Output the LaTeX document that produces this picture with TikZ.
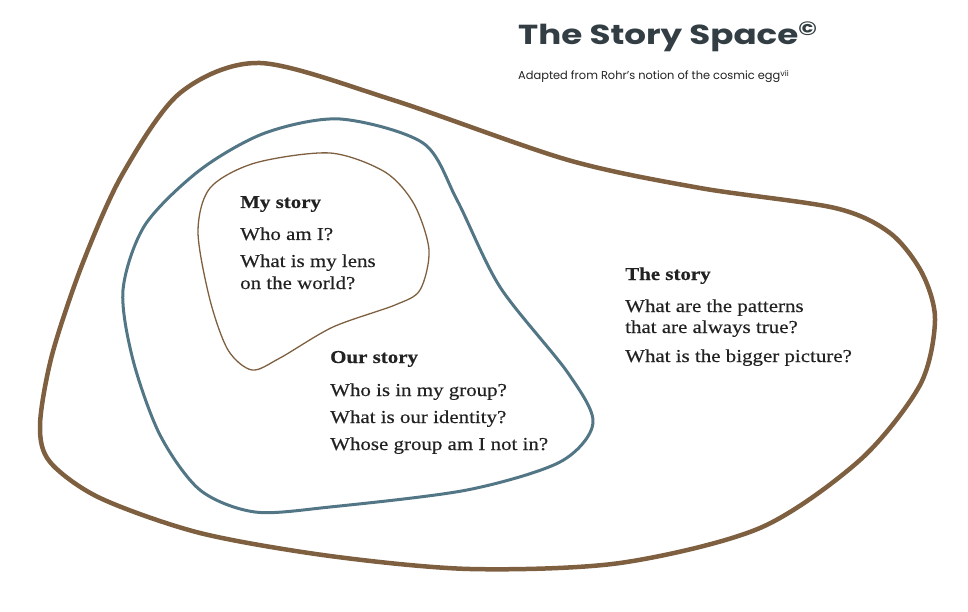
\documentclass[tikz,border=0pt]{standalone}
\usepackage{fontspec}
\setmainfont[FakeStretch=1.15,FakeBold=0.4]{Liberation Serif}
\newfontfamily\titlefont[FakeStretch=1.24]{Poppins}
\newfontfamily\subtitlefont{Poppins}
\usepackage{tikz}
\definecolor{eggbrown}{HTML}{7E6040}
\definecolor{groupblue}{HTML}{527685}
\definecolor{titlegrey}{HTML}{323E43}
\definecolor{inkgrey}{HTML}{222222}

\begin{document}
\begin{tikzpicture}[x=1pt,y=-1pt]
    \tikzstyle{head}=[inner sep=0pt,anchor=base west,text=inkgrey,font=\fontsize{18.2}{22}\selectfont\bfseries]
    \tikzstyle{question}=[inner sep=0pt,anchor=base west,text=inkgrey,font=\fontsize{18.2}{22}\selectfont]
    \tikzstyle{blob}=[line join=round,line cap=round]

    \useasboundingbox (0,0) rectangle (968,612);

    % the story
    \draw[blob,eggbrown,line width=4.5pt] plot[smooth cycle] coordinates {
        (260,63) (393,100) (568,160) (700,188) (835,208) (890,233)
        (922,273) (935,320) (920,385) (860,460) (760,528) (620,563)
        (470,569) (330,556) (200,533) (100,498) (50,462) (40,425)
        (52,355) (82,265) (122,175) (180,93)};
    % our story
    \draw[blob,groupblue,line width=3pt] plot[smooth cycle] coordinates {
        (340,119) (423,143) (457,200) (500,287) (568,373) (593,423)
        (560,462) (467,490) (330,507) (255,512) (200,490) (160,435)
        (133,360) (123,290) (145,225) (200,170) (265,133)};
    % my story
    \draw[blob,eggbrown,line width=1.3pt] plot[smooth cycle] coordinates {
        (330,153) (385,172) (414,204) (429,250) (420,290) (395,305)
        (333,327) (280,358) (252,370) (228,350) (210,300) (198,232)
        (210,188) (255,163)};

    \node[anchor=base west,inner sep=0pt,text=titlegrey,
          font=\titlefont\bfseries\fontsize{27.5}{30}\selectfont] (Title) at (518,45)
          {The Story Space\textsuperscript{©}};
    \node[anchor=base west,inner sep=0pt,text=inkgrey,
          font=\subtitlefont\fontsize{11.4}{13}\selectfont] (Subtitle) at (518,80)
          {Adapted from Rohr’s notion of the cosmic egg\textsuperscript{vii}};

    \node[head] (MyHead) at (240,208) {My story};
    \node[question] (MyQ1) at ([yshift=-32pt]MyHead.base west) {Who am I?};
    \node[question] (MyQ2) at ([yshift=-27pt]MyQ1.base west) {What is my lens};
    \node[question] (MyQ3) at ([yshift=-22pt]MyQ2.base west) {on the world?};

    \node[head] (OurHead) at (330,363) {Our story};
    \node[question] (OurQ1) at ([yshift=-33pt]OurHead.base west) {Who is in my group?};
    \node[question] (OurQ2) at ([yshift=-27pt]OurQ1.base west) {What is our identity?};
    \node[question] (OurQ3) at ([yshift=-27pt]OurQ2.base west) {Whose group am I not in?};

    \node[head] (TheHead) at (625,280) {The story};
    \node[question] (TheQ1) at ([yshift=-32pt]TheHead.base west) {What are the patterns};
    \node[question] (TheQ2) at ([yshift=-21pt]TheQ1.base west) {that are always true?};
    \node[question] (TheQ3) at ([yshift=-29pt]TheQ2.base west) {What is the bigger picture?};
\end{tikzpicture}
\end{document}
